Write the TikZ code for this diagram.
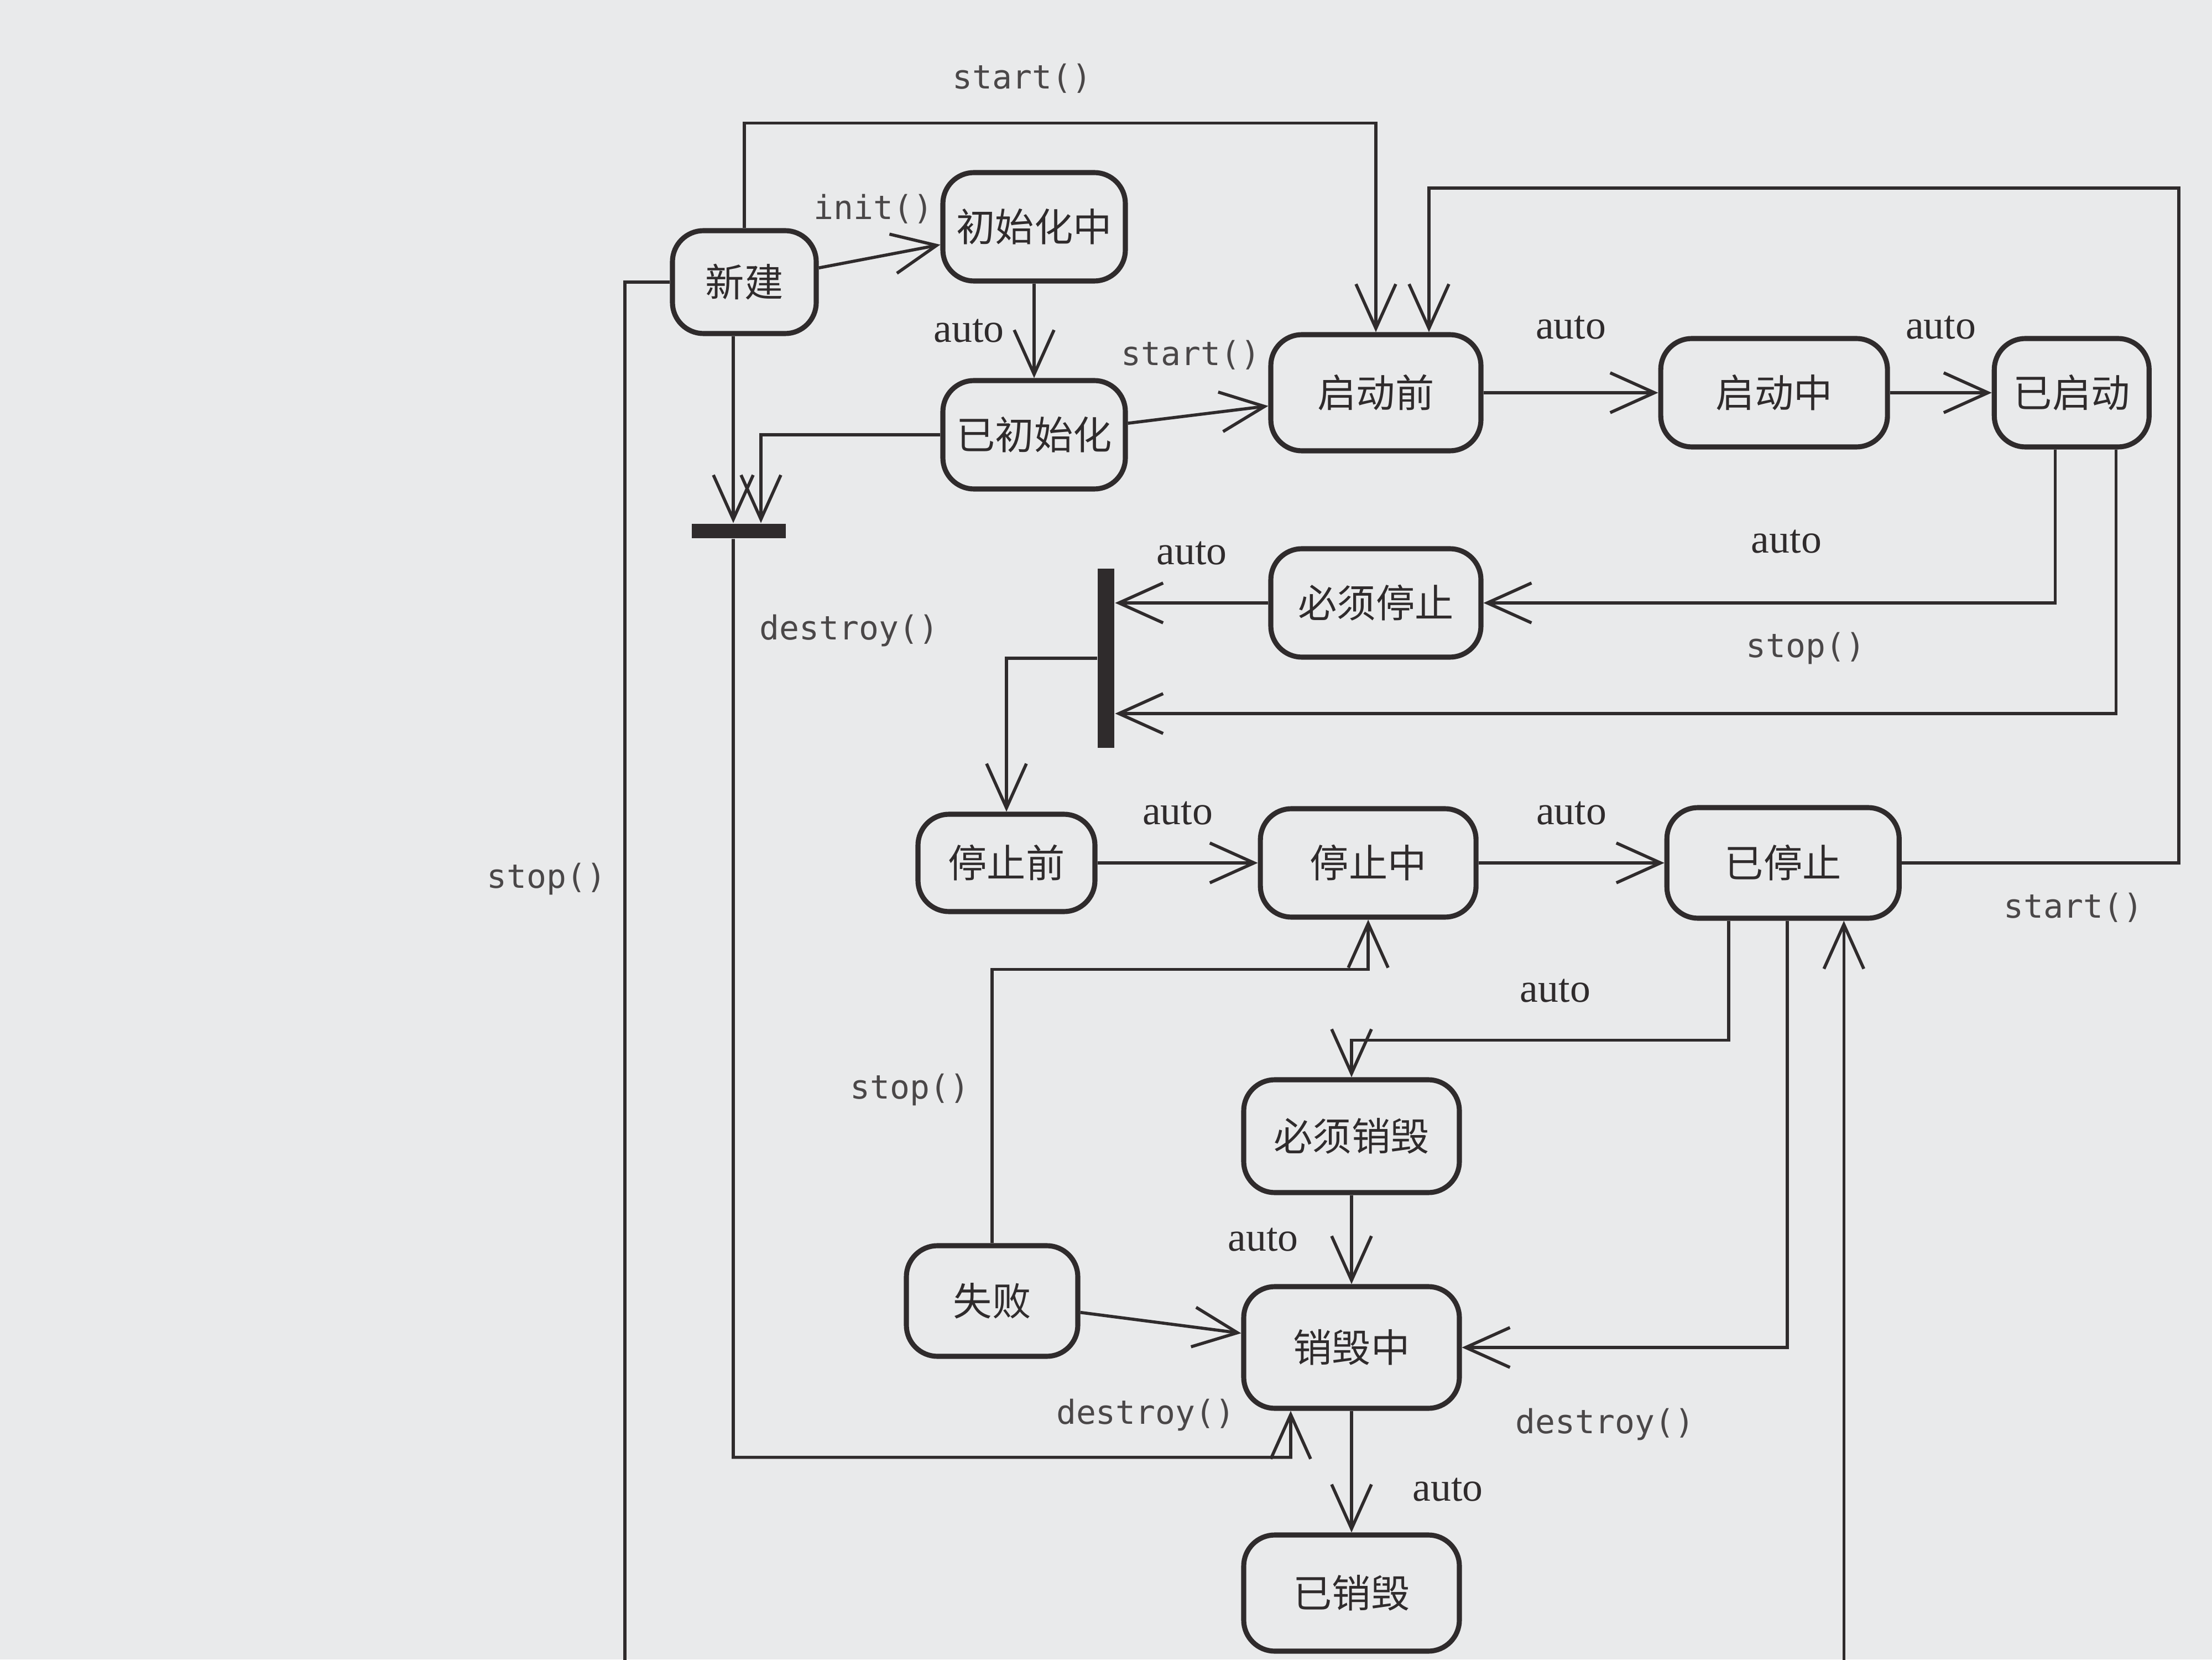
\documentclass[tikz,border=0pt]{standalone}
\usepackage{fontspec}
\setmainfont{Liberation Serif}
\newfontfamily\cjkfont{Noto Sans CJK SC}
\newfontfamily\codefont{DejaVu Sans Mono}
\usetikzlibrary{arrows.meta, positioning, calc}
\definecolor{paper}{HTML}{E9EAEB}
\definecolor{ink}{HTML}{2F2B2C}
\definecolor{codeink}{HTML}{4A4748}

\begin{document}
\begin{tikzpicture}[
  node distance=1.5cm and 1.5cm,
  st/.style={rectangle, rounded corners=8pt, draw=ink, line width=1.3pt,
             fill=paper, minimum width=1.9cm, minimum height=0.98cm,
             inner sep=2pt, font=\cjkfont\fontsize{10}{12}\selectfont, text=ink},
  bar/.style={rectangle, fill=ink, inner sep=0pt},
  arr/.style={-{Straight Barb[length=4mm, width=3.6mm]}, draw=ink, line width=0.8pt},
  au/.style={font=\fontsize{10.5}{12}\selectfont, text=ink},
  fn/.style={font=\codefont\fontsize{8.5}{11}\selectfont, text=codeink},
]
  \clip (0,0) rectangle (20,15);
  \fill[paper] (0,0) rectangle (20,15);

  % states
  \node[st, minimum width=1.3cm, minimum height=0.93cm] (nw) at (6.73,12.45) {新建};
  \node[st, minimum width=1.65cm] (ini) at (9.35,12.95) {初始化中};
  \node[st, minimum width=1.65cm] (ind) at (9.35,11.07) {已初始化};
  \node[st, minimum height=1.05cm] (sbf) at (12.44,11.45) {启动前};
  \node[st, minimum width=2.05cm, right=1.58cm of sbf] (sing) {启动中};
  \node[st, minimum width=1.4cm, right=0.92cm of sing] (sed) {已启动};
  \node[st] (mst) at (12.44,9.55) {必须停止};
  \node[st, minimum width=1.6cm, minimum height=0.88cm] (pst) at (9.1,7.2) {停止前};
  \node[st, minimum width=1.95cm, right=1.45cm of pst] (sting) {停止中};
  \node[st, minimum width=2.1cm, minimum height=1.0cm, right=1.68cm of sting] (sted) {已停止};
  \node[st, minimum width=1.95cm, minimum height=1.02cm] (mds) at (12.22,4.73) {必须销毁};
  \node[st, minimum width=1.55cm, minimum height=1.0cm] (fl) at (8.97,3.24) {失败};
  \node[st, minimum width=1.95cm, minimum height=1.1cm] (dsing) at (12.22,2.82) {销毁中};
  \node[st, minimum width=1.95cm, minimum height=1.05cm] (dsed) at (12.22,0.6) {已销毁};

  % join bars
  \node[bar, minimum width=0.85cm, minimum height=0.13cm] (barH) at (6.68,10.2) {};
  \node[bar, minimum width=0.15cm, minimum height=1.62cm] (barV) at (10.0,9.05) {};

  \coordinate (topR) at (19.7,13.3);
  \coordinate (lowL) at (5.65,-0.4);

  % init / start
  \draw[arr] (nw) -- node[fn, above=5pt, pos=0.45] {init()} (ini);
  \draw[arr] (ini) -- node[au, left=4pt] {auto} (ind);
  \draw[arr] (ind) -- node[fn, above=8pt, pos=0.45] {start()} (sbf);
  \draw[arr] (nw.north) -- ++(0,0.95) -| node[fn, above=4pt, pos=0.22] {start()} (sbf.north);
  \draw[arr] (sbf) -- node[au, above=10pt] {auto} (sing);
  \draw[arr] (sing) -- node[au, above=10pt] {auto} (sed);
  \draw[arr] (sted.east) -| node[fn, below=4pt, pos=0.31] {start()} (topR)
    -| ([xshift=4.8mm]sbf.north);

  % stop
  \draw[arr] ([xshift=-1.5mm]sed.south) |- node[au, above=9pt, pos=0.735] {auto} (mst.east);
  \draw[arr] ([xshift=4mm]sed.south) |- node[fn, above=9pt, pos=0.655] {stop()}
    ([yshift=-5mm]barV.east);
  \draw[arr] (mst.west) -- node[au, above=6pt] {auto} (mst.west -| barV.east);
  \draw[arr] (barV.west) -| (pst.north);
  \draw[arr] (pst) -- node[au, above=6pt] {auto} (sting);
  \draw[arr] (sting) -- node[au, above=6pt] {auto} (sted);
  \draw[arr] (fl.north) |- node[fn, left=2pt, pos=0.28] {stop()}
    ([yshift=-4.5mm]sting.south) -- (sting.south);
  \draw[arr] (nw.west) -| node[fn, left=1pt, pos=0.71] {stop()} (lowL)
    -| ([xshift=5.5mm]sted.south);

  % destroy
  \draw[arr] ([xshift=-1mm]nw.south) -- ([xshift=-1mm]nw.south |- barH.north);
  \draw[arr] (ind.west) -| ([xshift=2mm]barH.north);
  \draw[arr] ([xshift=-0.5mm]barH.south)
    |- node[fn, right=3pt, pos=0.05] {destroy()}
       node[fn, above=3pt, pos=0.87] {destroy()} ($(dsing.south)+(-0.55,-0.42)$)
    -- ([xshift=-5.5mm]dsing.south);
  \draw[arr] ([xshift=-4.9mm]sted.south) -- ++(0,-1.08)
    -| node[au, above=6pt, pos=0.23] {auto} (mds.north);
  \draw[arr] (mds) -- node[au, left=10pt] {auto} (dsing);
  \draw[arr] (fl) -- (dsing);
  \draw[arr] ([xshift=0.4mm]sted.south) |- node[fn, below=12pt, pos=0.78] {destroy()} (dsing.east);
  \draw[arr] (dsing) -- node[au, right=12pt, pos=0.65] {auto} (dsed);
\end{tikzpicture}
\end{document}
